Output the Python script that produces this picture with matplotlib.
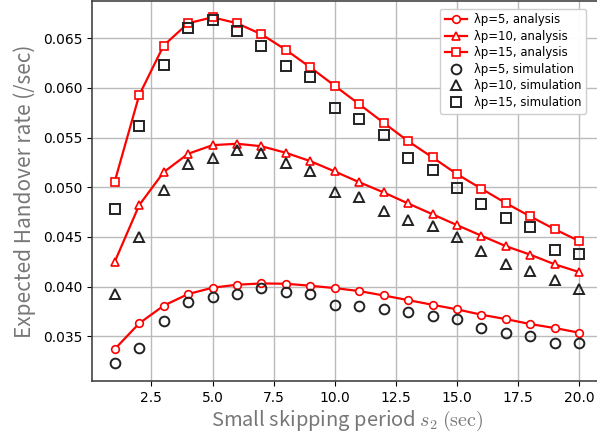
import matplotlib
matplotlib.use("Agg")
import matplotlib.pyplot as plt
import numpy as np

plt.rcParams["mathtext.fontset"] = "cm"

s2 = np.arange(1, 21)

ana_5 = [0.03371, 0.03630, 0.03808, 0.03925, 0.03989, 0.04019, 0.04032, 0.04029, 0.04009, 0.03985,
         0.03955, 0.03911, 0.03864, 0.03817, 0.03771, 0.03717, 0.03673, 0.03623, 0.03583, 0.03536]
ana_10 = [0.04250, 0.04820, 0.05152, 0.05337, 0.05424, 0.05438, 0.05413, 0.05347, 0.05263, 0.05159,
          0.05051, 0.04948, 0.04837, 0.04728, 0.04619, 0.04512, 0.04407, 0.04321, 0.04224, 0.04146]
ana_15 = [0.05058, 0.05927, 0.06427, 0.06651, 0.06711, 0.06651, 0.06540, 0.06383, 0.06207, 0.06021,
          0.05836, 0.05649, 0.05464, 0.05300, 0.05132, 0.04985, 0.04840, 0.04706, 0.04577, 0.04458]

sim_5 = [0.03227, 0.03381, 0.03650, 0.03841, 0.03891, 0.03922, 0.03985, 0.03942, 0.03922, 0.03818,
         0.03808, 0.03778, 0.03744, 0.03704, 0.03673, 0.03580, 0.03536, 0.03506, 0.03432, 0.03432]
sim_10 = [0.03922, 0.04498, 0.04968, 0.05236, 0.05297, 0.05377, 0.05343, 0.05242, 0.05159, 0.04955,
          0.04907, 0.04757, 0.04670, 0.04607, 0.04502, 0.04357, 0.04224, 0.04153, 0.04062, 0.03975]
sim_15 = [0.04777, 0.05619, 0.06232, 0.06601, 0.06685, 0.06570, 0.06427, 0.06218, 0.06105, 0.05796,
          0.05689, 0.05528, 0.05290, 0.05176, 0.04995, 0.04834, 0.04686, 0.04598, 0.04371, 0.04324]

fig = plt.figure(figsize=(5.97, 4.40), dpi=100)
ax = fig.add_axes([92 / 597, 59 / 440, 510.5 / 597, 380 / 440])

red_kw = dict(color="red", lw=1.6, ms=5.5, mfc="white", mec="red", mew=1.2)
ax.plot(s2, ana_5, "o-", label="λp=5, analysis", **red_kw)
ax.plot(s2, ana_10, "^-", label="λp=10, analysis", **red_kw)
ax.plot(s2, ana_15, "s-", label="λp=15, analysis", **red_kw)

blk_kw = dict(ls="none", ms=7, mfc="none", mec="#222222", mew=1.4)
ax.plot(s2, sim_5, "o", label="λp=5, simulation", **blk_kw)
ax.plot(s2, sim_10, "^", label="λp=10, simulation", **blk_kw)
ax.plot(s2, sim_15, "s", label="λp=15, simulation", **blk_kw)

ax.set_xlim(0.07, 20.95)
ax.set_ylim(0.0305, 0.06875)
ax.set_xticks([2.5, 5.0, 7.5, 10.0, 12.5, 15.0, 17.5, 20.0])
ax.set_yticks([0.035, 0.040, 0.045, 0.050, 0.055, 0.060, 0.065])
ax.tick_params(labelsize=10)
ax.grid(True, color="#bbbbbb", lw=1)
ax.set_axisbelow(True)
for sp in ax.spines.values():
    sp.set_color("#444444")
    sp.set_linewidth(1.2)

lab_font = ["Noto Sans CJK JP", "DejaVu Sans"]
ax.set_xlabel(r"Small skipping period $s_2$ $\mathrm{(sec)}$", fontsize=14.5, color="#777777",
              family=lab_font, labelpad=3)
ax.set_ylabel("Expected Handover rate (/sec)", fontsize=15, color="#777777",
              family=lab_font, labelpad=5)

ax.legend(loc="upper right", bbox_to_anchor=(500 / 510.5, 0.995), fontsize=8.4,
          framealpha=0.95, handlelength=1.9, handletextpad=0.6,
          labelspacing=0.3, borderpad=0.4)

fig.savefig("out.png", dpi=100)
